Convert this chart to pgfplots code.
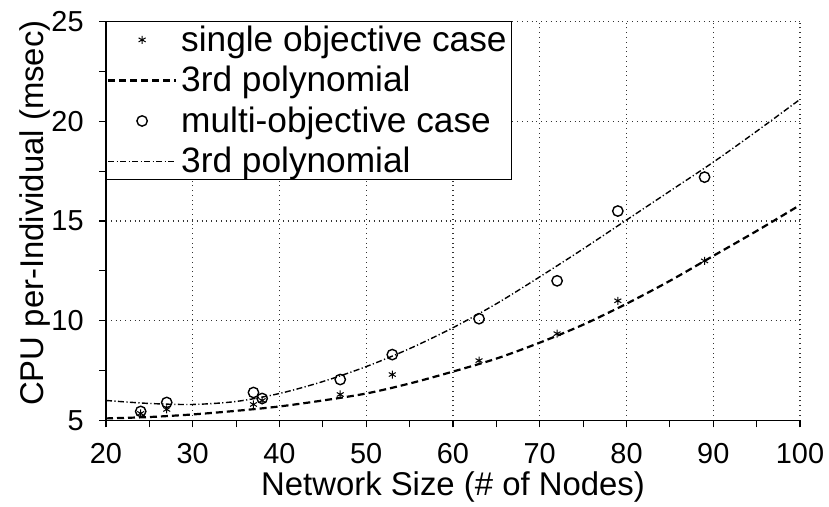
\documentclass[border=0pt]{standalone}
\usepackage{fontspec}
\setmainfont{Liberation Sans}
\usepackage{pgfplots}
\pgfplotsset{compat=1.18}

\begin{document}
\begin{tikzpicture}
\begin{axis}[
  scale only axis,
  width=347bp, height=199.4bp,
  xmin=20, xmax=100, ymin=5, ymax=25,
  xtick={20,30,...,100}, ytick={5,10,...,25},
  minor x tick num=1, minor y tick num=1,
  axis x line*=bottom, axis y line*=left,
  axis line style={line width=0.8bp, -},
  tick align=outside,
  major tick length=3.5bp, minor tick length=3.5bp,
  tick style={line width=0.6bp, black},
  grid=major,
  major grid style={dotted, line width=0.6bp, black!80},
  /pgf/number format/assume math mode=true,
  ticklabel style={font=\fontsize{14.5}{17}\selectfont},
  xticklabel style={inner ysep=0pt, yshift=-7.8bp},
  yticklabel style={inner xsep=0pt},
  yticklabel={\pgfmathprintnumber{\tick}\kern7.5bp},
  label style={font=\fontsize{16.5}{19}\selectfont},
  xlabel={Network Size (\# of Nodes)},
  ylabel={CPU per-Individual (msec)},
  xlabel style={at={(axis description cs:0.5,-0.168)}, anchor=center, inner sep=0pt},
  ylabel style={at={(axis description cs:-0.103,0.52)}, anchor=center, inner sep=0pt},
  legend cell align=left,
  legend style={at={(0,1)}, anchor=north west, draw=black, line width=0.6bp,
    fill=white, font=\fontsize{17.7}{19.5}\selectfont, inner sep=0.5bp,
    row sep=3bp, outer sep=0pt,
    nodes={inner ysep=1.5bp}},
  legend image code/.code={\draw[#1] (0cm,0cm) -- (1.2cm,0cm);},
]
% single objective case: measured points
\addplot[only marks, mark=asterisk, mark size=2bp, black, line width=0.5bp,
  legend image code/.code={\draw[mark repeat=2,mark phase=2] plot coordinates {(0cm,0cm) (0.6cm,0cm) (1.2cm,0cm)};}]
  coordinates {
  (24,5.35) (27,5.55) (37,5.8) (38,6.0) (47,6.3)
  (53,7.3) (63,8.0) (72,9.35) (79,11.0) (89,13.0)
  };
\addlegendentry{single objective case}
% cubic fit, single objective
\addplot[black, line width=1.1bp, dash pattern=on 3.5bp off 2bp, smooth]
  coordinates {
  (20,5.1) (25,5.17) (30,5.3) (35,5.48) (40,5.7) (45,6.0) (50,6.35)
  (55,6.85) (60,7.45) (65,8.1) (70,8.9) (75,9.8) (80,10.85)
  (85,12.0) (90,13.25) (95,14.5) (100,15.8)
  };
\addlegendentry{3rd polynomial}
% multi-objective case: measured points
\addplot[only marks, mark=o, mark size=2.6bp, black, line width=0.7bp,
  legend image code/.code={\draw[mark repeat=2,mark phase=2] plot coordinates {(0cm,0cm) (0.6cm,0cm) (1.2cm,0cm)};}]
  coordinates {
  (24,5.45) (27,5.9) (37,6.4) (38,6.1) (47,7.05)
  (53,8.3) (63,10.1) (72,12.0) (79,15.5) (89,17.2)
  };
\addlegendentry{multi-objective case}
% cubic fit, multi-objective
\addplot[black, line width=0.7bp, dash pattern=on 3bp off 1.2bp on 0.6bp off 1.2bp, smooth]
  coordinates {
  (20,6.0) (25,5.85) (30,5.8) (35,5.95) (40,6.35) (45,6.95) (50,7.7)
  (55,8.6) (60,9.65) (65,10.85) (70,12.2) (75,13.6) (80,15.05)
  (85,16.5) (90,17.95) (95,19.5) (100,21.1)
  };
\addlegendentry{3rd polynomial}
\end{axis}
\pgfresetboundingbox
\useasboundingbox ([shift={(-53bp,-42.8bp)}]current axis.south west)
  rectangle ([shift={(14.5bp,10.8bp)}]current axis.north east);
\end{tikzpicture}
\end{document}
